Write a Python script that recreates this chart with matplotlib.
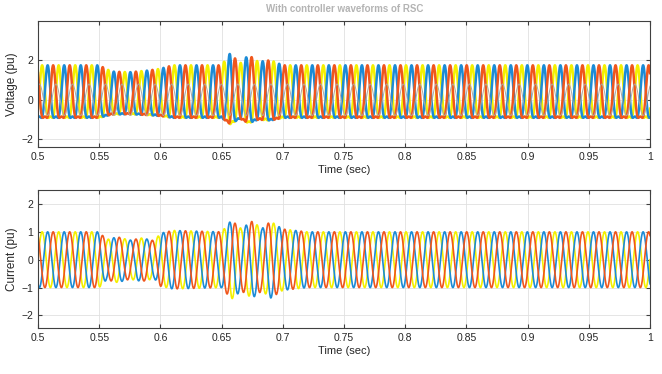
import numpy as np
import matplotlib
matplotlib.use("Agg")
import matplotlib.pyplot as plt

plt.rcParams['font.family'] = ['Liberation Sans', 'DejaVu Sans']

# signal parameters
freq = 74.0                      # Hz, about 37 cycles in 0.5 s
t = np.linspace(0.5, 1.0, 20000)

# envelope of the three phase voltage (scale factor vs time)
v_env_t = [0.5, 0.55, 0.56, 0.575, 0.59, 0.60, 0.61, 0.65, 0.657, 0.665, 0.672, 0.68, 0.69, 0.70, 1.0]
v_env_a = [1.0, 1.0, 0.82, 0.8, 0.85, 0.9, 1.0, 1.0, 1.35, 1.05, 1.3, 1.1, 1.15, 1.0, 1.0]

# envelope of the three phase current amplitude (pu)
i_env_t = [0.5, 0.55, 0.556, 0.565, 0.575, 0.585, 0.595, 0.60, 0.61, 0.65, 0.658, 0.666, 0.675, 0.683, 0.69, 0.70, 0.72, 1.0]
i_env_a = [1.0, 1.0, 0.72, 0.82, 0.7, 0.78, 0.68, 0.95, 1.05, 1.0, 1.42, 1.12, 1.38, 1.12, 1.38, 1.1, 1.0, 1.0]

v_peak = 1.3       # fundamental part of voltage
v_harm = 0.45      # second harmonic part (sharp tops)
grey_amp = 0.8

phase_shift = [0.0, -2 * np.pi / 3, 2 * np.pi / 3]
colors = ['#F4F000', '#1B8BD6', '#F0561C']

xticks = [0.5, 0.55, 0.6, 0.65, 0.7, 0.75, 0.8, 0.85, 0.9, 0.95, 1.0]
xtick_labels = ['0.5', '0.55', '0.6', '0.65', '0.7', '0.75', '0.8', '0.85', '0.9', '0.95', '1']

fig = plt.figure(figsize=(6.62, 3.74), dpi=100)
ax1 = fig.add_axes([38 / 662, 1 - 147 / 374, 612 / 662, 126 / 374])
ax2 = fig.add_axes([38 / 662, 1 - 328 / 374, 612 / 662, 138 / 374])

venv = np.interp(t, v_env_t, v_env_a)
ienv = np.interp(t, i_env_t, i_env_a)
theta = 2 * np.pi * freq * t

for ph, c in zip(phase_shift, colors):
    th = theta + ph
    v = venv * (v_peak * np.sin(th) - v_harm * np.cos(2 * th))
    ax1.plot(t, v, color=c, lw=1.8)
ax1.plot(t, grey_amp * np.sin(theta + np.pi / 3), color='#b0a8a0', lw=0.7)

for ph, c in zip(phase_shift, colors):
    ax2.plot(t, ienv * np.sin(theta + ph), color=c, lw=1.2)

for ax in (ax1, ax2):
    ax.set_xlim(0.5, 1.0)
    ax.set_xticks(xticks)
    ax.set_xticklabels(xtick_labels)
    ax.grid(True, color='#e0e0e0', lw=0.6)
    ax.set_axisbelow(True)
    ax.tick_params(direction='in', top=True, right=True, labelsize=7.5,
                   length=3, colors='#404040', labelcolor='#262626')
    for s in ax.spines.values():
        s.set_color('#404040')
        s.set_linewidth(0.8)
    ax.set_xlabel('Time (sec)', fontsize=8, color='#262626', labelpad=2)

ax1.set_ylim(-2.4, 4.0)
ax1.set_yticks([-2, 0, 2])
ax1.set_ylabel('Voltage (pu)', fontsize=8.5, color='#262626', labelpad=2)

ax2.set_ylim(-2.45, 2.5)
ax2.set_yticks([-2, -1, 0, 1, 2])
ax2.set_ylabel('Current (pu)', fontsize=8.5, color='#262626', labelpad=2)

fig.text(345 / 662, 1 - 9 / 374, 'With controller waveforms of RSC', ha='center', va='center',
         fontsize=7, color='#b4b4b4', fontweight='bold')

fig.savefig('out.png', dpi=100)
